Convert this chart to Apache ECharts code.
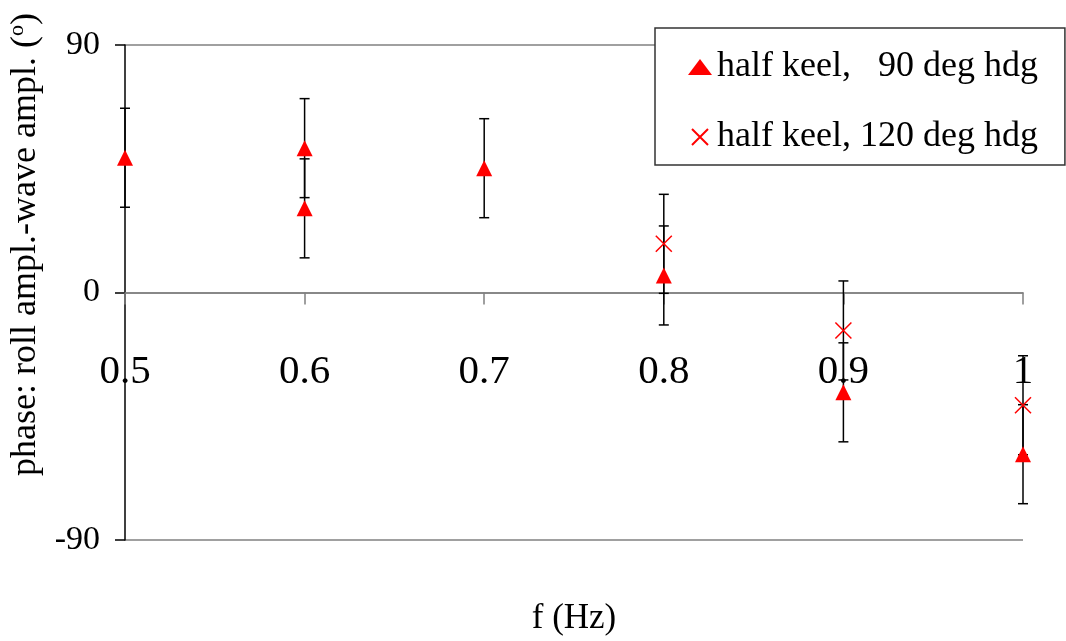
<!DOCTYPE html>
<html>
<head>
<meta charset="utf-8">
<script src="https://cdn.jsdelivr.net/npm/echarts@6/dist/echarts.min.js"></script>
<style>
  html, body { margin: 0; padding: 0; background: #fff; }
  #chart { width: 1066px; height: 641px; }
</style>
</head>
<body>
<div id="chart"></div>
<script>
// half keel, 90 deg heading
const freq90 = [0.5, 0.6, 0.6, 0.7, 0.8, 0.9, 1.0]
const phase90 = [49, 52.5, 30.6, 45.2, 6.2, -36.3, -58.8]
const err90 = [18, 18, 18, 18, 18, 18, 18]

// half keel, 120 deg heading
const freq120 = [0.8, 0.9, 1.0]
const phase120 = [17.7, -13.8, -41]
const err120 = [18, 18, 18]

const FONT = 'Liberation Serif'
const chart = echarts.init(document.getElementById('chart'))

function errorBarData(xs, ys, es) {
  return xs.map((x, i) => [x, ys[i] - es[i], ys[i] + es[i]])
}

function renderErrorBar(params, api) {
  const x = api.value(0)
  const top = api.coord([x, api.value(2)])
  const bot = api.coord([x, api.value(1)])
  const w = 5
  const style = { stroke: '#000', lineWidth: 1.5 }
  return {
    type: 'group',
    children: [
      { type: 'line', shape: { x1: top[0], y1: top[1], x2: bot[0], y2: bot[1] }, style },
      { type: 'line', shape: { x1: top[0] - w, y1: top[1], x2: top[0] + w, y2: top[1] }, style },
      { type: 'line', shape: { x1: bot[0] - w, y1: bot[1], x2: bot[0] + w, y2: bot[1] }, style }
    ]
  }
}

const crossPath = 'path://M0,0L10,10M10,0L0,10'

chart.setOption({
  animation: false,
  textStyle: { fontFamily: FONT },
  grid: { left: 125, right: 43, top: 45, bottom: 101, containLabel: false, outerBoundsMode: 'none' },
  legend: {
    orient: 'vertical',
    left: 655,
    top: 28,
    padding: [19, 27, 8, 33],
    itemGap: 30,
    itemWidth: 24,
    itemHeight: 16,
    borderColor: '#333',
    borderWidth: 1.5,
    backgroundColor: '#fff',
    textStyle: { fontFamily: FONT, fontSize: 36, color: '#000', lineHeight: 40 },
    data: [
      { name: 'half keel,   90 deg hdg' },
      { name: 'half keel, 120 deg hdg' }
    ]
  },
  xAxis: {
    type: 'value',
    min: 0.5,
    max: 1,
    interval: 0.1,
    name: 'f (Hz)',
    nameLocation: 'middle',
    nameGap: 61,
    nameTextStyle: { fontFamily: FONT, fontSize: 35, color: '#000' },
    axisLine: { onZero: true, lineStyle: { color: '#808080', width: 1.5 } },
    axisTick: { show: true, length: 12, lineStyle: { color: '#808080', width: 1.5 } },
    axisLabel: {
      margin: -188,
      fontFamily: FONT,
      fontSize: 41,
      color: '#000',
      formatter: v => String(Math.round(v * 10) / 10)
    },
    splitLine: { show: false }
  },
  yAxis: {
    type: 'value',
    min: -90,
    max: 90,
    interval: 90,
    name: '{a|phase: roll ampl.-wave ampl. (}{s|o}{a|)}',
    nameLocation: 'middle',
    nameGap: 72,
    nameTextStyle: {
      padding: [0, 0, 0, 96],
      rich: {
        a: { fontFamily: FONT, fontSize: 36, color: '#000', lineHeight: 40 },
        s: { fontFamily: FONT, fontSize: 22, color: '#000', verticalAlign: 'top', lineHeight: 40 }
      }
    },
    axisLine: { show: true, lineStyle: { color: '#000', width: 1.5 } },
    axisTick: { show: true, length: 10, lineStyle: { color: '#000', width: 1.5 } },
    axisLabel: { margin: 25, fontFamily: FONT, fontSize: 34, color: '#000' },
    splitLine: { show: true, lineStyle: { color: '#808080', width: 1.5 } }
  },
  series: [
    {
      type: 'custom',
      name: 'err90',
      renderItem: renderErrorBar,
      data: errorBarData(freq90, phase90, err90),
      z: 1,
      silent: true
    },
    {
      type: 'custom',
      name: 'err120',
      renderItem: renderErrorBar,
      data: errorBarData(freq120, phase120, err120),
      z: 1,
      silent: true
    },
    {
      type: 'scatter',
      name: 'half keel,   90 deg hdg',
      symbol: 'triangle',
      symbolSize: 16,
      itemStyle: { color: '#ff0000', opacity: 1 },
      data: freq90.map((x, i) => [x, phase90[i]]),
      z: 3
    },
    {
      type: 'scatter',
      name: 'half keel, 120 deg hdg',
      symbol: crossPath,
      symbolSize: 16,
      itemStyle: { color: 'none', borderColor: '#ff0000', borderWidth: 1.5, opacity: 1 },
      data: freq120.map((x, i) => [x, phase120[i]]),
      z: 3
    }
  ]
})
</script>
</body>
</html>
